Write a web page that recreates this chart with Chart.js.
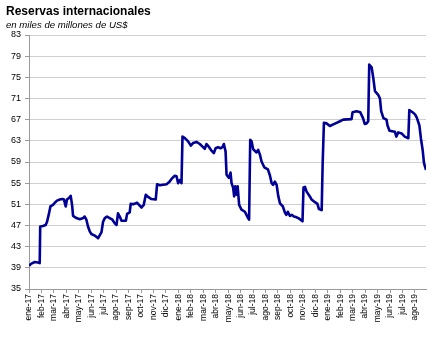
<!DOCTYPE html>
<html>
<head>
<meta charset="utf-8">
<script src="https://cdn.jsdelivr.net/npm/chart.js@4"></script>
<style>
  html, body { margin: 0; padding: 0; background: #fff; }
  #wrap { position: relative; width: 444px; height: 342px; }
  #titulo { position: absolute; left: 6px; top: 5px; font: bold 12px/12px 'Liberation Sans', Arial, sans-serif; color: #000; white-space: nowrap; }
  #subtitulo { position: absolute; left: 6px; top: 20px; font: italic 9.6px/10px 'Liberation Sans', Arial, sans-serif; color: #000; white-space: nowrap; }
  canvas { position: absolute; left: 0; top: 0; }
</style>
</head>
<body>
<div id="wrap">
  <canvas id="c" width="444" height="342"></canvas>
  <div id="titulo">Reservas internacionales</div>
  <div id="subtitulo">en miles de millones de US$</div>
</div>
<script>
// meses transcurridos desde el 1 de enero de 2017
const meses = [
  0.00, 0.19, 0.46, 0.73, 0.86, 0.90, 1.12, 1.34, 1.45, 1.58,
  1.72, 1.93, 2.07, 2.25, 2.47, 2.68, 2.81, 2.95, 3.05, 3.21,
  3.35, 3.46, 3.54, 3.81, 4.08, 4.35, 4.47, 4.61, 4.74, 4.88,
  5.01, 5.28, 5.55, 5.69, 5.82, 5.95, 6.09, 6.27, 6.48, 6.70,
  6.89, 7.03, 7.15, 7.29, 7.43, 7.62, 7.78, 7.88, 8.09, 8.17,
  8.36, 8.58, 8.68, 8.84, 9.04, 9.22, 9.38, 9.57, 9.83, 10.18,
  10.29, 10.51, 10.77, 11.05, 11.26, 11.45, 11.71, 11.85, 11.98, 12.11,
  12.25, 12.33, 12.52, 12.78, 13.00, 13.19, 13.45, 13.72, 13.94, 14.12,
  14.26, 14.47, 14.67, 14.85, 14.99, 15.19, 15.38, 15.54, 15.65, 15.79,
  15.87, 16.05, 16.19, 16.27, 16.40, 16.48, 16.56, 16.68, 16.76, 16.88,
  17.07, 17.34, 17.47, 17.60, 17.68, 17.77, 17.88, 18.01, 18.28, 18.41,
  18.55, 18.68, 18.90, 19.19, 19.35, 19.49, 19.61, 19.75, 19.89, 20.02,
  20.16, 20.39, 20.55, 20.67, 20.79, 20.96, 21.12, 21.28, 21.44, 21.63,
  21.76, 21.97, 22.05, 22.17, 22.30, 22.56, 22.70, 22.97, 23.17, 23.29,
  23.51, 23.59, 23.69, 23.90, 24.17, 24.44, 24.71, 24.98, 25.24, 25.91,
  25.99, 26.32, 26.61, 26.83, 26.97, 27.13, 27.25, 27.33, 27.52, 27.65,
  27.79, 28.05, 28.19, 28.29, 28.47, 28.72, 28.80, 28.96, 29.39, 29.51,
  29.66, 29.93, 30.18, 30.47, 30.55, 30.81, 31.01, 31.15, 31.36, 31.48,
  31.62, 31.73, 31.89
];
// reservas internacionales, miles de millones de US$
const reservas = [
  39.4, 39.8, 40.1, 40.0, 39.9, 46.8, 46.9, 47.1, 47.7, 49.0,
  50.6, 50.9, 51.3, 51.7, 51.9, 52.0, 51.9, 50.6, 51.9, 52.2,
  52.6, 50.9, 48.8, 48.4, 48.2, 48.4, 48.7, 48.1, 46.8, 45.9,
  45.4, 45.1, 44.6, 45.2, 45.7, 47.7, 48.4, 48.7, 48.4, 48.1,
  47.4, 47.1, 49.3, 48.7, 47.9, 47.9, 47.9, 49.2, 49.5, 51.1,
  51.0, 51.2, 51.3, 50.9, 50.4, 50.9, 52.8, 52.4, 52.0, 51.9,
  54.8, 54.6, 54.7, 54.8, 55.2, 55.8, 56.4, 56.3, 55.0, 55.6,
  55.0, 63.8, 63.5, 62.9, 62.1, 62.6, 62.8, 62.4, 61.9, 61.5,
  62.4, 61.8, 61.1, 60.7, 61.6, 61.8, 61.6, 61.8, 62.4, 61.0,
  56.6, 56.0, 57.0, 55.0, 54.1, 52.5, 54.4, 52.8, 54.4, 50.9,
  50.0, 49.6, 49.0, 48.4, 48.1, 63.2, 62.9, 61.4, 60.8, 61.3,
  60.4, 59.1, 58.0, 57.6, 56.5, 55.0, 54.7, 55.3, 54.7, 52.6,
  51.2, 50.6, 49.5, 49.0, 49.6, 48.8, 49.0, 48.7, 48.6, 48.4,
  48.2, 47.8, 54.2, 54.3, 53.4, 52.5, 51.9, 51.4, 51.1, 50.1,
  49.9, 58.8, 66.4, 66.3, 65.8, 66.1, 66.4, 66.7, 67.0, 67.1,
  68.4, 68.6, 68.4, 67.3, 66.2, 66.3, 66.7, 77.4, 76.9, 75.0,
  72.4, 71.7, 71.0, 68.6, 67.3, 67.0, 65.9, 64.9, 64.7, 63.8,
  64.6, 64.4, 63.8, 63.5, 68.8, 68.4, 68.0, 67.4, 65.9, 63.5,
  61.3, 58.8, 57.5
];
// etiquetas del eje horizontal (inicio de cada mes)
const etiquetas = [
  'ene-17','feb-17','mar-17','abr-17','may-17','jun-17','jul-17','ago-17','sep-17','oct-17','nov-17','dic-17',
  'ene-18','feb-18','mar-18','abr-18','may-18','jun-18','jul-18','ago-18','sep-18','oct-18','nov-18','dic-18',
  'ene-19','feb-19','mar-19','abr-19','may-19','jun-19','jul-19','ago-19'
];
// marcas del eje vertical
const marcasY = [35, 39, 43, 47, 51, 55, 59, 63, 67, 71, 75, 79, 83];

const puntos = meses.map((m, i) => ({ x: m, y: reservas[i] }));

new Chart(document.getElementById('c'), {
  type: 'line',
  data: {
    datasets: [{
      data: puntos,
      borderColor: '#000096',
      borderWidth: 2.6,
      pointRadius: 0,
      tension: 0,
      fill: false,
      borderJoinStyle: 'round'
    }]
  },
  options: {
    responsive: false,
    animation: false,
    layout: { padding: { top: 35, right: 18, left: 0, bottom: 0 } },
    plugins: { legend: { display: false }, tooltip: { enabled: false }, title: { display: false } },
    scales: {
      x: {
        type: 'linear',
        min: 0,
        max: 31.89,
        afterFit: (s) => { s.height = 53; },
        afterBuildTicks: (s) => { s.ticks = etiquetas.map((_, i) => ({ value: i })); },
        ticks: {
          includeBounds: false,
          autoSkip: false,
          minRotation: 90,
          maxRotation: 90,
          padding: 1,
          color: '#000',
          font: { family: "'Liberation Sans Narrow', 'Liberation Sans', Arial, sans-serif", size: 8.5 },
          callback: (v) => etiquetas[v]
        },
        grid: {
          drawOnChartArea: false,
          drawTicks: true,
          tickLength: 4,
          tickColor: '#9a9a9a',
          tickWidth: 1
        },
        border: { display: true, color: '#9a9a9a', width: 1 }
      },
      y: {
        min: 35,
        max: 83,
        afterFit: (s) => { s.width = 29; },
        afterBuildTicks: (s) => { s.ticks = marcasY.map(v => ({ value: v })); },
        ticks: {
          padding: 4,
          color: '#000',
          font: { family: "'Liberation Sans', Arial, sans-serif", size: 9 }
        },
        grid: {
          color: '#cfcfcf',
          lineWidth: 1,
          borderDash: [4, 3],
          drawTicks: true,
          tickLength: 4,
          tickColor: '#9a9a9a',
          tickBorderDash: [],
          tickWidth: 1
        },
        border: { display: true, color: '#9a9a9a', width: 1 }
      }
    }
  }
});
</script>
</body>
</html>
